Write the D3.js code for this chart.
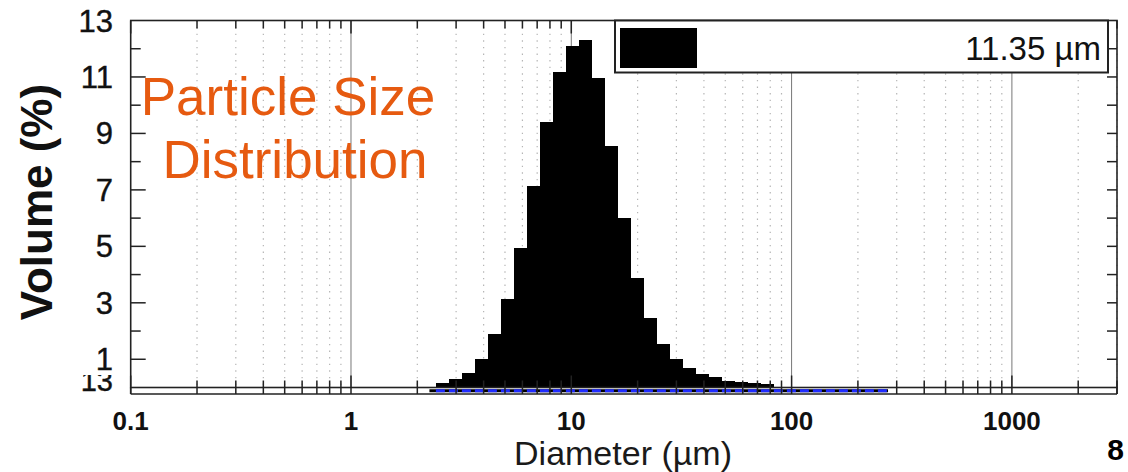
<!DOCTYPE html>
<html><head><meta charset="utf-8">
<script src="https://cdn.jsdelivr.net/npm/d3@7/dist/d3.min.js"></script>
<style>body{margin:0;background:#fff;}svg{display:block;font-family:"Liberation Sans",Arial,sans-serif;}</style>
</head><body>
<svg id="c" width="1128" height="472"></svg>
<script>
// ---- data ----
const diameters = [2.599,2.976,3.409,3.905,4.472,5.122,5.867,6.720,7.697,8.816,10.097,11.565,13.246,15.172,17.377,19.904,22.797,26.111,29.907,34.255,39.234,44.938,51.471,58.953,67.523,77.339];
const volumes   = [0.17,0.31,0.52,1.02,1.88,3.15,4.93,7.14,9.39,11.19,12.10,12.32,10.97,8.55,5.99,3.87,2.45,1.53,1.02,0.69,0.49,0.38,0.22,0.21,0.15,0.14];
const binRatio = 1.1454;
const xTickValues = [0.1,1,10,100,1000];
const xTickLabels = ["0.1","1","10","100","1000"];
const yTickLabels = [13,11,9,7,5,3,1];
const legendText = "11.35 \u00b5m";
const stripRange = [2.27, 274];

const svg = d3.select("#c");
const L=130.7, R=1117, T=20.5, B=387.5, B2=394;
const x = d3.scaleLog().domain([0.1,3000]).range([L,R]);
const y = d3.scaleLinear().domain([0,13]).range([B,T]);

// minor log positions
const minor=[], major=[];
for (let e=-1;e<=3;e++){ const p=Math.pow(10,e); major.push(p); for(let k=2;k<=9;k++){const v=k*p; if(v<=3000) minor.push(v);} }

// grid
svg.append("g").selectAll("line").data(minor).join("line")
  .attr("x1",d=>x(d)).attr("x2",d=>x(d)).attr("y1",T).attr("y2",B)
  .attr("stroke","#b5b5b5").attr("stroke-width",1.2).attr("stroke-dasharray","1.4,5.2");
svg.append("g").selectAll("line").data(major.filter(d=>d>0.1)).join("line")
  .attr("x1",d=>x(d)).attr("x2",d=>x(d)).attr("y1",T).attr("y2",B)
  .attr("stroke","#777").attr("stroke-width",1);

// bars
const hs=Math.sqrt(binRatio);
svg.append("g").selectAll("rect").data(diameters.map((d,i)=>({d,v:volumes[i]}))).join("rect")
  .attr("x",o=>x(o.d/hs)).attr("width",o=>x(o.d*hs)-x(o.d/hs))
  .attr("y",o=>y(o.v)).attr("height",o=>y(0)-y(o.v))
  .attr("fill","#000").attr("shape-rendering","crispEdges");

// lower strip
svg.append("line").attr("x1",x(stripRange[0])).attr("x2",x(stripRange[1])).attr("y1",390.8).attr("y2",390.8)
  .attr("stroke","#000").attr("stroke-width",3);
svg.append("line").attr("x1",x(diameters[0]/hs)).attr("x2",x(stripRange[1])).attr("y1",390.8).attr("y2",390.8)
  .attr("stroke","#1f2bff").attr("stroke-width",3).attr("stroke-dasharray","9,4");

// frame
const fr = svg.append("g").attr("stroke","#222").attr("fill","none").attr("stroke-width",1.6);
fr.append("rect").attr("x",L).attr("y",T).attr("width",R-L).attr("height",B-T);
fr.append("line").attr("x1",L).attr("x2",R).attr("y1",B2).attr("y2",B2);
fr.append("line").attr("x1",L).attr("x2",L).attr("y1",B).attr("y2",B2);
fr.append("line").attr("x1",R).attr("x2",R).attr("y1",B).attr("y2",B2);

// x ticks (bottom, top)
const tk = svg.append("g").attr("stroke","#222").attr("stroke-width",1.5);
tk.selectAll(".bm").data(minor).join("line").attr("x1",d=>x(d)).attr("x2",d=>x(d)).attr("y1",B-7).attr("y2",B2);
tk.selectAll(".bM").data(major).join("line").attr("x1",d=>x(d)).attr("x2",d=>x(d)).attr("y1",B-12).attr("y2",B2);
tk.selectAll(".tm").data(minor).join("line").attr("x1",d=>x(d)).attr("x2",d=>x(d)).attr("y1",T).attr("y2",T+8);
tk.selectAll(".tM").data(major).join("line").attr("x1",d=>x(d)).attr("x2",d=>x(d)).attr("y1",T).attr("y2",T+13);
// y ticks
const yt = d3.range(1,13);
tk.selectAll(".yl").data(yt).join("line").attr("x1",L).attr("x2",d=>L+(d%2?15:10)).attr("y1",d=>y(d)).attr("y2",d=>y(d));
tk.selectAll(".yr").data(yt).join("line").attr("x1",R).attr("x2",R-10).attr("y1",d=>y(d)).attr("y2",d=>y(d));

// y tick labels
svg.append("g").selectAll("text").data(yTickLabels).join("text")
  .attr("x",113).attr("y",d=>y(d)+11).attr("text-anchor","end")
  .attr("font-size",31).attr("fill","#111").attr("stroke","#111").attr("stroke-width",0.4).text(d=>d);
// clipped bottom label (partially hidden, as in the reference)
svg.append("clipPath").attr("id","clb").append("rect").attr("x",60).attr("y",375).attr("width",70).attr("height",30);
svg.append("text").attr("x",113).attr("y",391).attr("text-anchor","end").attr("font-size",29).attr("fill","#111")
  .attr("stroke","#111").attr("stroke-width",0.4).attr("clip-path","url(#clb)").text("13");

// x tick labels
svg.append("g").selectAll("text").data(xTickValues).join("text")
  .attr("x",d=>x(d)).attr("y",430).attr("text-anchor","middle").attr("font-weight","bold")
  .attr("font-size",26).attr("fill","#111").text((d,i)=>xTickLabels[i]);

// axis titles
svg.append("text").attr("transform","translate(52,202) rotate(-90)").attr("text-anchor","middle")
  .attr("font-weight","bold").attr("font-size",44).attr("fill","#111").text("Volume (%)");
svg.append("text").attr("x",623).attr("y",465).attr("text-anchor","middle")
  .attr("font-size",34).attr("fill","#1a1a1a").text("Diameter (\u00b5m)");

// legend
const lg = svg.append("g");
lg.append("rect").attr("x",615).attr("y",T).attr("width",493).attr("height",52).attr("fill","#fff").attr("stroke","#222").attr("stroke-width",2);
lg.append("rect").attr("x",620).attr("y",28).attr("width",77).attr("height",40).attr("fill","#000");
lg.append("text").attr("x",1101).attr("y",60).attr("text-anchor","end").attr("font-size",33).attr("fill","#111").text(legendText);

// annotation
const ann = svg.append("g").attr("fill","#E65A10").attr("font-size",53).attr("text-anchor","middle");
ann.append("text").attr("x",288).attr("y",115).text("Particle Size");
ann.append("text").attr("x",295).attr("y",178).text("Distribution");

// page number
svg.append("text").attr("x",1124).attr("y",460).attr("text-anchor","end").attr("font-weight","bold").attr("font-size",30).attr("fill","#000").text("8");
</script>
</body></html>
